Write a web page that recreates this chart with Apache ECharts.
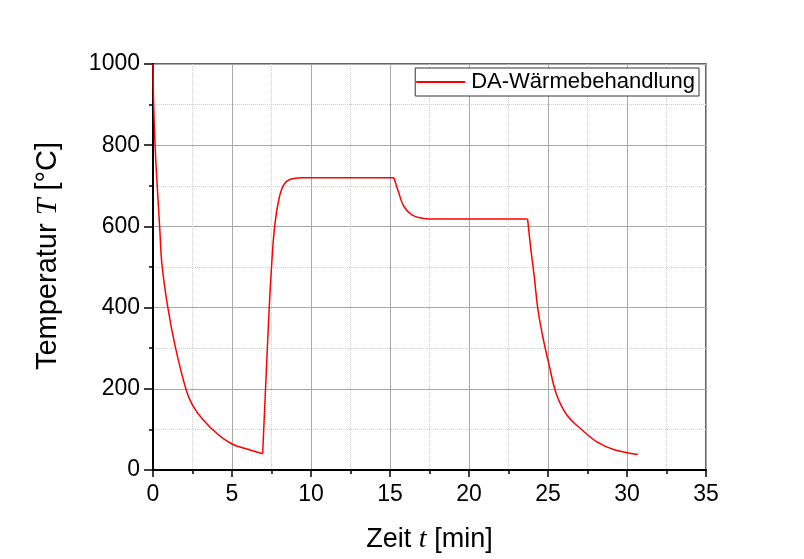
<!DOCTYPE html>
<html>
<head>
<meta charset="utf-8">
<script src="https://cdn.jsdelivr.net/npm/echarts@6/dist/echarts.min.js"></script>
<style>
  html, body { margin: 0; padding: 0; background: #fff; }
  #main { width: 804px; height: 559px; }
</style>
</head>
<body>
<div id="main"></div>
<script>
// Zeit t [min] und Temperatur T [°C]
const zeit = [
    0, 0.04, 0.13, 0.27, 0.42, 0.57, 0.94, 1.43, 2.1, 2.5, 3.14, 4.1, 5.0, 6.0, 6.94,
    7.36, 7.53, 7.7, 7.96, 8.27, 8.69, 9.43, 15.25,
    15.57, 15.88, 16.41, 17.05, 17.5, 23.71,
    23.92, 24.13, 24.35, 24.66, 25.08, 25.55, 26.24, 27.09, 28.15, 29.2, 30.69
];
const temperatur = [
    1000, 905, 800, 698, 600, 505, 400, 300, 197, 160, 125, 88, 64, 51, 40,
    403, 518, 600, 665, 702, 716, 720, 720,
    681, 649, 628, 620, 618, 618,
    542, 477, 399, 330, 257, 185, 133, 101, 68, 50, 38
];
// Knickpunkte (Index in zeit): Abkühlen, Aufheizen/Halten, Abkühlen auf 620, Abschrecken
const knicke = [0, 14, 22, 28, zeit.length - 1];
const serienName = 'DA-Wärmebehandlung';

let myChart = echarts.init(document.getElementById('main'));

const font = 'Liberation Sans, Arial, sans-serif';
const kursiv = { fontFamily: 'Liberation Serif, Times New Roman, serif', fontStyle: 'italic', color: '#000' };

const punkte = zeit.map((t, i) => [t, temperatur[i]]);
const serien = [];
for (let k = 0; k < knicke.length - 1; k++) {
    serien.push({
        name: serienName,
        type: 'line',
        data: punkte.slice(knicke[k], knicke[k + 1] + 1),
        showSymbol: false,
        smooth: 0.4,
        lineStyle: { color: '#ff0000', width: 1.5 },
        itemStyle: { color: '#ff0000' }
    });
}

option = {
    backgroundColor: '#fff',
    animation: false,
    grid: {
        left: 153,
        top: 64,
        right: 98,
        bottom: 88,
        show: true,
        borderColor: '#333',
        borderWidth: 1.5
    },
    legend: {
        right: 105,
        top: 68,
        data: [serienName],
        backgroundColor: '#fff',
        borderColor: '#333',
        borderWidth: 1,
        borderRadius: 0,
        padding: [3, 4, 3, 1],
        itemWidth: 49,
        itemHeight: 2,
        itemGap: 4,
        icon: 'rect',
        textStyle: { fontFamily: font, fontSize: 22, color: '#000', padding: [0, 0, 0, 1] }
    },
    xAxis: {
        type: 'value',
        min: 0,
        max: 35,
        interval: 5,
        name: 'Zeit {i|t} [min]',
        nameLocation: 'middle',
        nameGap: 56,
        nameTextStyle: {
            fontFamily: font, fontSize: 27, color: '#000',
            rich: { i: Object.assign({ fontSize: 28 }, kursiv) }
        },
        axisLine: { show: true, onZero: false, lineStyle: { color: '#000', width: 2 } },
        axisTick: { show: true, inside: false, length: 7, lineStyle: { color: '#000', width: 1.5 } },
        minorTick: { show: true, splitNumber: 2, length: 4, lineStyle: { color: '#000', width: 1.5 } },
        axisLabel: { fontFamily: font, fontSize: 23, color: '#000', margin: 13 },
        splitLine: { show: true, lineStyle: { color: '#a8a8a8', width: 1 } },
        minorSplitLine: { show: true, lineStyle: { color: '#d0d0d0', width: 1, type: 'dotted' } }
    },
    yAxis: {
        type: 'value',
        min: 0,
        max: 1000,
        interval: 200,
        name: 'Temperatur {i|T} [°C]',
        nameLocation: 'middle',
        nameGap: 90,
        nameTextStyle: {
            fontFamily: font, fontSize: 29, color: '#000',
            padding: [0, 0, 0, 22],
            rich: { i: Object.assign({ fontSize: 30 }, kursiv) }
        },
        axisLine: { show: true, onZero: false, lineStyle: { color: '#000', width: 2 } },
        axisTick: { show: true, inside: false, length: 9, lineStyle: { color: '#000', width: 1.5 } },
        minorTick: { show: true, splitNumber: 2, length: 4, lineStyle: { color: '#000', width: 1.5 } },
        axisLabel: {
            fontFamily: font, fontSize: 23, color: '#000', margin: 13,
            formatter: v => String(v)
        },
        splitLine: { show: true, lineStyle: { color: '#a8a8a8', width: 1 } },
        minorSplitLine: { show: true, lineStyle: { color: '#d0d0d0', width: 1, type: 'dotted' } }
    },
    series: serien
};
myChart.setOption(option);
</script>
</body>
</html>
